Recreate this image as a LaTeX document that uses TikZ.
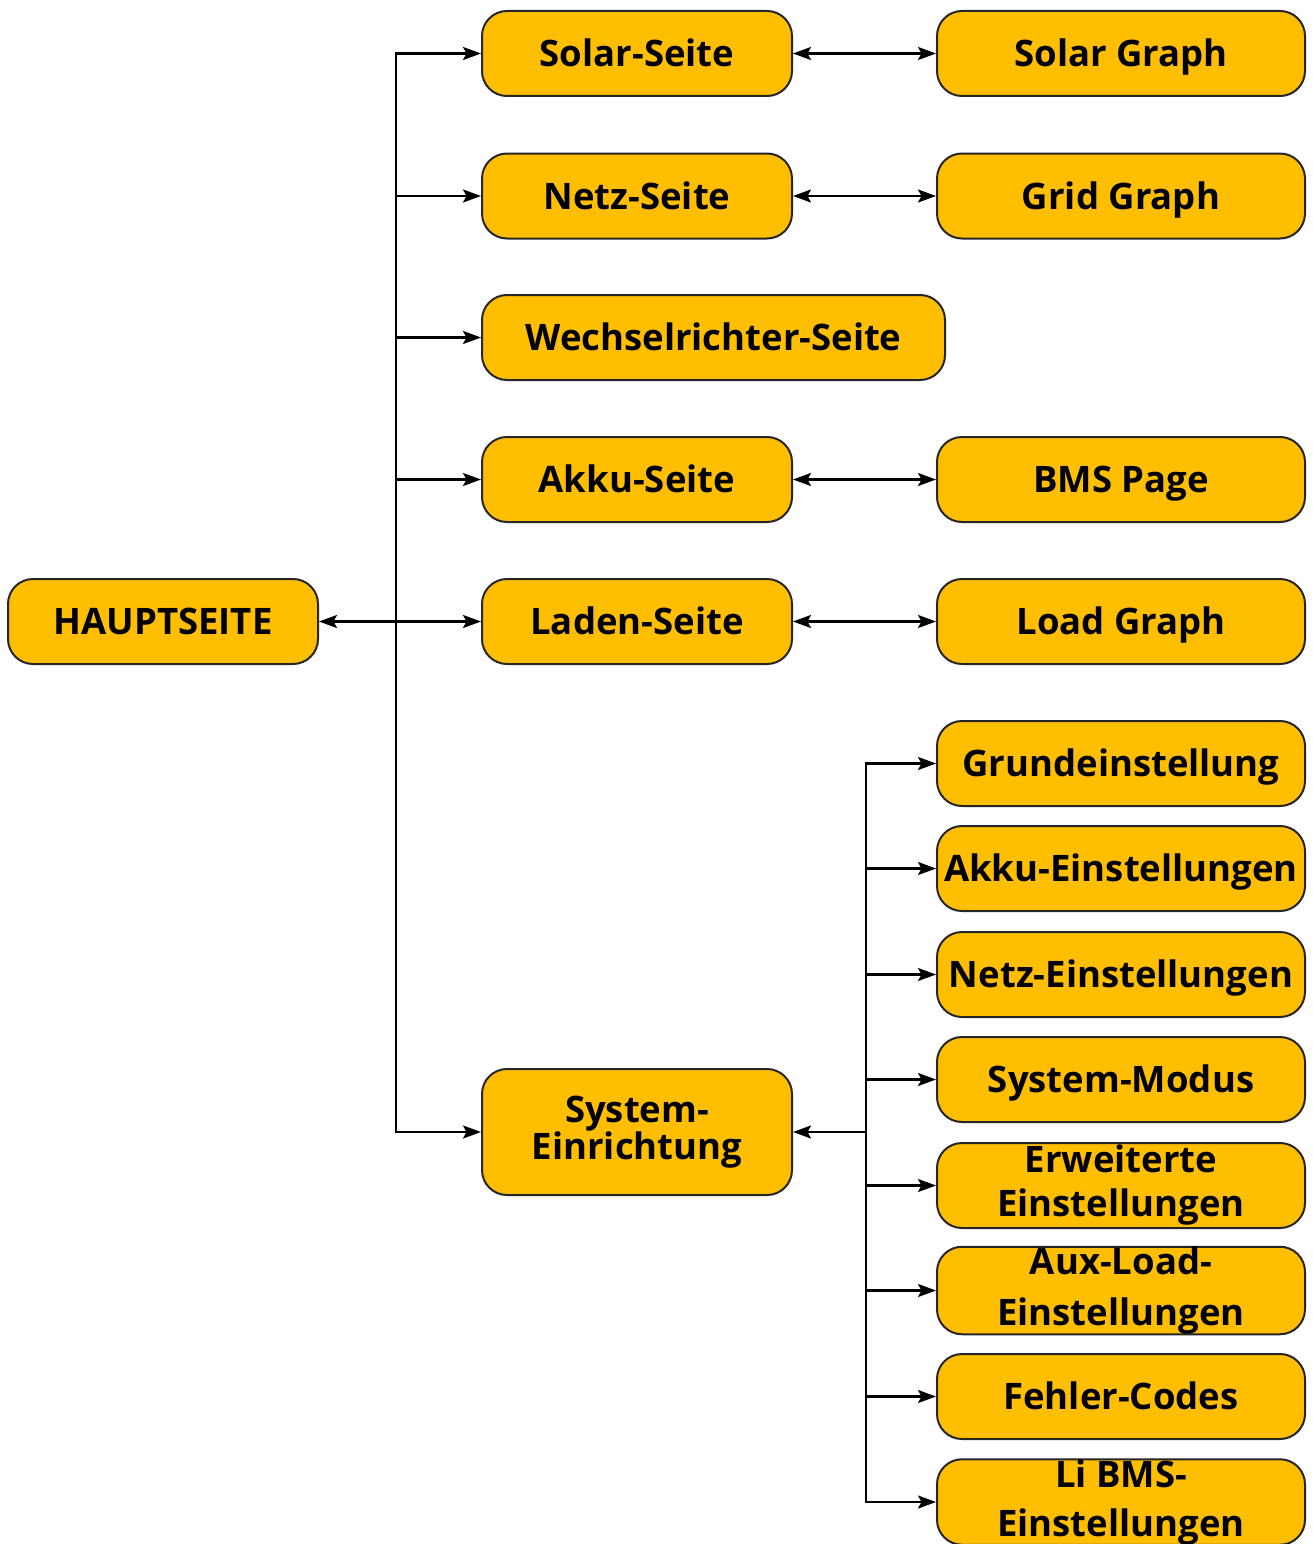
\documentclass[tikz,border=0pt]{standalone}
\usepackage{fontspec}
\setmainfont{Open Sans}
\usetikzlibrary{arrows.meta}
\definecolor{boxfill}{HTML}{FFBF00}
\definecolor{boxline}{HTML}{262626}
\tikzset{
  boxbase/.style={draw=boxline, fill=boxfill, line width=2pt, rounded corners=25pt,
    minimum height=85pt, inner sep=0pt, align=center,
    font=\fontsize{36.5}{44}\selectfont\bfseries},
  box/.style={boxbase, text height=26.5pt, text depth=0pt},
  wA/.style={box, minimum width=310pt},
  wC/.style={box, minimum width=368pt},
  wAm/.style={boxbase, minimum width=310pt},
  wCm/.style={boxbase, minimum width=368pt},
  tip/.tip={Stealth[length=18pt,width=13pt,inset=3.5pt]},
  arr/.style={line width=2.2pt, -tip},
  darr/.style={line width=2.2pt, tip-tip},
  trunkline/.style={line width=2.2pt, line cap=rect},
}
\begin{document}
\begin{tikzpicture}[x=1pt,y=-1pt]
\useasboundingbox (0,0) rectangle (1313,1544);
% left
\node[wA] (haupt) at (163,621.5) {HAUPTSEITE};
% column A
\node[wA] (solar) at (637,53.5) {Solar-Seite};
\node[wA] (netz) at (637,196) {Netz-Seite};
\node[box, minimum width=463pt] (wr) at (713.5,337.5) {Wechselrichter-Seite};
\node[wA] (akku) at (637,479.5) {Akku-Seite};
\node[wA] (laden) at (637,621.5) {Laden-Seite};
\node[wAm, minimum height=126pt, font=\fontsize{36.5}{37}\selectfont\bfseries] (sys) at (637,1132) {System-\\Einrichtung};
% column C
\node[wC] (sgraph) at (1121,53.5) {Solar Graph};
\node[wC] (ggraph) at (1121,196) {Grid Graph};
\node[wC] (bms) at (1121,479.5) {BMS Page};
\node[wC] (lgraph) at (1121,621.5) {Load Graph};
\node[wC] (grund) at (1121,763.5) {Grundeinstellung};
\node[wC] (akkuE) at (1121,868.5) {Akku-Einstellungen};
\node[wC] (netzE) at (1121,974.5) {Netz-Einstellungen};
\node[wC] (modus) at (1121,1079.5) {System-Modus};
\node[wCm] (erw) at (1121,1185.5) {Erweiterte\\Einstellungen};
\node[wCm, font=\fontsize{36.5}{51}\selectfont\bfseries] (aux) at (1121,1290.5) {Aux-Load-\\Einstellungen};
\node[wC] (fehler) at (1121,1396.5) {Fehler-Codes};
\node[wCm, font=\fontsize{36.5}{49}\selectfont\bfseries] (li) at (1121,1502) {Li BMS-\\Einstellungen};
% trunks
\coordinate (tA) at (396,0);
\coordinate (tB) at (866,0);
\draw[trunkline] (tA |- solar.west) -- (tA |- sys.west);
\draw[trunkline] (tB |- grund.west) -- (tB |- li.west);
% main arrows
\draw[darr] (haupt.east) -- (laden.west);
\foreach \n in {solar,netz,wr,akku,sys}
  \draw[arr] (tA |- \n.west) -- (\n.west);
\draw[darr] (solar.east) -- (sgraph.west);
\draw[darr] (netz.east) -- (ggraph.west);
\draw[darr] (akku.east) -- (bms.west);
\draw[darr] (laden.east) -- (lgraph.west);
\draw[arr] (tB |- sys.east) -- (sys.east);
\foreach \n in {grund,akkuE,netzE,modus,erw,aux,fehler,li}
  \draw[arr] (tB |- \n.west) -- (\n.west);
\end{tikzpicture}
\end{document}
